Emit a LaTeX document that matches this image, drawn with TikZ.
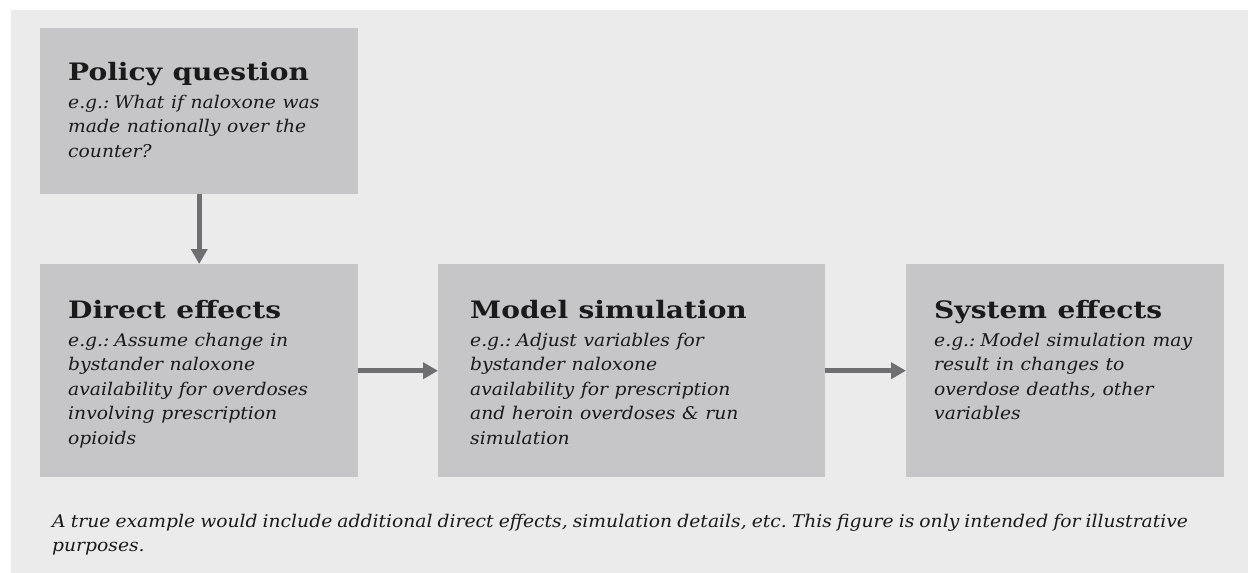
\documentclass[tikz,border=0pt]{standalone}
\usepackage{fontspec}
\setmainfont{DejaVu Serif}
\newfontfamily\ttlff[FakeStretch=1.17]{DejaVu Serif}
\newfontfamily\bodyff[FakeStretch=1.07]{DejaVu Serif}
\usetikzlibrary{arrows.meta}
\definecolor{bgc}{HTML}{EBEBEB}
\definecolor{boxc}{HTML}{C6C6C8}
\definecolor{arrc}{HTML}{6E6E73}
\definecolor{txtc}{HTML}{1A1A1A}
\tikzset{
  box/.style={rectangle, fill=boxc, draw=none, anchor=north west, inner sep=0pt},
  boxtext/.style={anchor=base west, inner sep=0pt, text width=330pt, align=left, text=txtc},
  arr/.style={draw=arrc, line width=5pt, -{Triangle[length=15pt,width=16pt]}},
}
\newcommand{\ttl}[1]{{\ttlff\fontsize{24}{26}\selectfont\bfseries\spaceskip=10.5pt #1\par}\vspace{3.5pt}}
\newcommand{\bodyfont}{\bodyff\fontsize{17.5}{24.6}\selectfont\itshape\spaceskip=6.6pt\relax}
\newcommand{\notefont}{\bodyff\fontsize{17.5}{24.6}\selectfont\itshape\spaceskip=5.1pt\relax}
\begin{document}
\begin{tikzpicture}[x=1pt,y=-1pt]
\useasboundingbox (0,0) rectangle (1248,573);
\fill[bgc] (11,10) rectangle (1248,573);
\node[box, minimum width=318pt, minimum height=166pt] (pq) at (40,28) {};
\node[box, minimum width=318pt, minimum height=213pt] (de) at (40,264) {};
\node[box, minimum width=387pt, minimum height=213pt] (ms) at (438,264) {};
\node[box, minimum width=318pt, minimum height=213pt] (se) at (906,264) {};
\node[boxtext] (pqt) at (68,80) {\ttl{Policy question}\bodyfont e.g.: What if naloxone was\\ made nationally over the\\ counter?\par};
\node[boxtext] (det) at (68,318) {\ttl{Direct effects}\bodyfont e.g.: Assume change in\\ bystander naloxone\\ availability for overdoses\\ involving prescription\\ opioids\par};
\node[boxtext] (mst) at (470,318) {\ttl{Model simulation}\bodyfont e.g.: Adjust variables for\\ bystander naloxone\\ availability for prescription\\ and heroin overdoses \& run\\ simulation\par};
\node[boxtext] (set) at (934,318) {\ttl{System effects}\bodyfont e.g.: Model simulation may\\ result in changes to\\ overdose deaths, other\\ variables\par};
\node[boxtext, text width=1190pt] (note) at (52,527) {\notefont A true example would include additional direct effects, simulation details, etc. This figure is only intended for illustrative\\ purposes.\par};
\draw[arr] (pq.south) -- (de.north);
\draw[arr] (de.east) -- (ms.west);
\draw[arr] (ms.east) -- (se.west);
\end{tikzpicture}
\end{document}
